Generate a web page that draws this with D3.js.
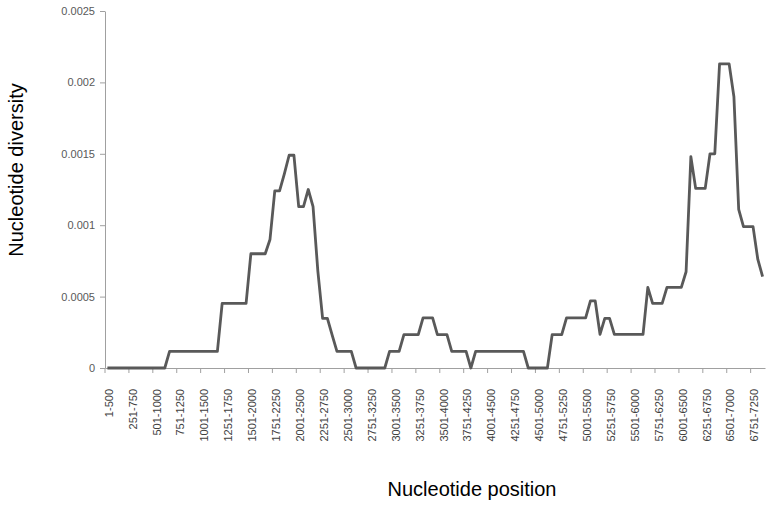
<!doctype html>
<html>
<head>
	<meta charset="utf-8">
	<title>Nucleotide diversity</title>
	<style>
		body { margin: 0; background: #fff; }
		svg { font-family: "Liberation Sans", Arial, sans-serif; }
		.axis path, .axis line { stroke: #a0a0a0; }
		.y-axis text { fill: #595959; font-size: 11px; }
		.x-axis text { fill: #404040; font-size: 11px; }
		.title { fill: #000; font-size: 20px; }
		.diversity-line { fill: none; stroke: #595959; stroke-width: 2.8; stroke-linejoin: round; }
	</style>
</head>
<body>

	<svg width="771" height="506"></svg>

	<script src="https://d3js.org/d3.v7.min.js"></script>
	<script>

		// sliding window: 500 bp windows, step 50 bp
		const window_size = 500,
			window_step = 50;

		// nucleotide diversity (Pi) per window
		const diversity = [
			0, 0, 0, 0, 0, 0, 0, 0, 0, 0,
			0, 0, 0, 0.000117, 0.000117, 0.000117, 0.000117, 0.000117, 0.000117, 0.000117,
			0.000117, 0.000117, 0.000117, 0.000117, 0.000453, 0.000453, 0.000453, 0.000453, 0.000453, 0.000453,
			0.0008, 0.0008, 0.0008, 0.0008, 0.0009, 0.00124, 0.00124, 0.00136, 0.00149, 0.00149,
			0.00113, 0.00113, 0.00125, 0.00113, 0.00068, 0.000348, 0.000348, 0.00023, 0.000117, 0.000117,
			0.000117, 0.000117, 0, 0, 0, 0, 0, 0, 0, 0.000117,
			0.000117, 0.000117, 0.000234, 0.000234, 0.000234, 0.000234, 0.000351, 0.000351, 0.000351, 0.000234,
			0.000234, 0.000234, 0.000117, 0.000117, 0.000117, 0.000117, 0, 0.000117, 0.000117, 0.000117,
			0.000117, 0.000117, 0.000117, 0.000117, 0.000117, 0.000117, 0.000117, 0.000117, 0, 0,
			0, 0, 0, 0.000234, 0.000234, 0.000234, 0.000351, 0.000351, 0.000351, 0.000351,
			0.000351, 0.00047, 0.00047, 0.000236, 0.000348, 0.000348, 0.000236, 0.000236, 0.000236, 0.000236,
			0.000236, 0.000236, 0.000236, 0.000565, 0.000453, 0.000453, 0.000453, 0.000565, 0.000565, 0.000565,
			0.000565, 0.000674, 0.00148, 0.001258, 0.001258, 0.001258, 0.0015, 0.0015, 0.00213, 0.00213,
			0.00213, 0.0019, 0.00111, 0.00099, 0.00099, 0.00099, 0.00076, 0.00064
		];

		// window names, one per value
		const windows = diversity.map( ( d, i ) => {
			const start = 1 + i * window_step;
			return start + "-" + ( start + window_size - 1 );
		});

		// labels printed under the axis
		const x_tick_labels = [
			"1-500", "251-750", "501-1000", "751-1250", "1001-1500", "1251-1750", "1501-2000",
			"1751-2250", "2001-2500", "2251-2750", "2501-3000", "2751-3250", "3001-3500", "3251-3750",
			"3501-4000", "3751-4250", "4001-4500", "4251-4750", "4501-5000", "4751-5250", "5001-5500",
			"5251-5750", "5501-6000", "5751-6250", "6001-6500", "6251-6750", "6501-7000", "6751-7250"
		];

		const y_ticks = [ 0, 0.0005, 0.001, 0.0015, 0.002, 0.0025 ];
		const y_tick_labels = [ "0", "0.0005", "0.001", "0.0015", "0.002", "0.0025" ];

		const svg = d3.select( "svg" );

		const plot = { left: 105, right: 765, top: 11, bottom: 368 };

		const x = d3.scaleBand()
				.domain( windows )
				.range( [ plot.left, plot.right ] )
				.padding( 0 );

		const y = d3.scaleLinear()
				.domain( [ 0, 0.0025 ] )
				.range( [ plot.bottom, plot.top ] );

		// y axis
		svg.append( "g" )
				.attr( "class", "axis y-axis" )
				.attr( "transform", "translate(" + plot.left + ",0)" )
				.call(
					d3.axisLeft( y )
						.tickValues( y_ticks )
						.tickSize( 5 )
						.tickSizeOuter( 0 )
						.tickFormat( ( d, i ) => y_tick_labels[ i ] )
				)
				.call( g => g.selectAll( "text" ).attr( "x", -10 ) );

		// x axis, ticks sit on the left edge of every labelled window
		svg.append( "g" )
				.attr( "class", "axis x-axis" )
				.attr( "transform", "translate(0," + plot.bottom + ")" )
				.call(
					d3.axisBottom( x )
						.tickValues( x_tick_labels )
						.tickSize( 5 )
						.tickSizeOuter( 0 )
				)
				.call( g => {
					g.selectAll( ".tick line" )
						.attr( "x1", -x.bandwidth() / 2 )
						.attr( "x2", -x.bandwidth() / 2 );
					g.selectAll( ".tick text" )
						.attr( "transform", "rotate(-90)" )
						.attr( "text-anchor", "end" )
						.attr( "x", -21 )
						.attr( "y", 1.5 )
						.attr( "dy", "0.35em" );
				});

		// diversity line
		const line = d3.line()
				.x( ( d, i ) => x( windows[ i ] ) + x.bandwidth() / 2 )
				.y( d => y( d ) );

		svg.append( "path" )
				.datum( diversity )
				.attr( "class", "diversity-line" )
				.attr( "d", line );

		// axis titles
		svg.append( "text" )
				.attr( "class", "title" )
				.attr( "x", 472 )
				.attr( "y", 496 )
				.attr( "text-anchor", "middle" )
				.text( "Nucleotide position" );

		svg.append( "text" )
				.attr( "class", "title" )
				.attr( "transform", "translate(23,170) rotate(-90)" )
				.attr( "text-anchor", "middle" )
				.text( "Nucleotide diversity" );

	</script>

</body>
</html>
